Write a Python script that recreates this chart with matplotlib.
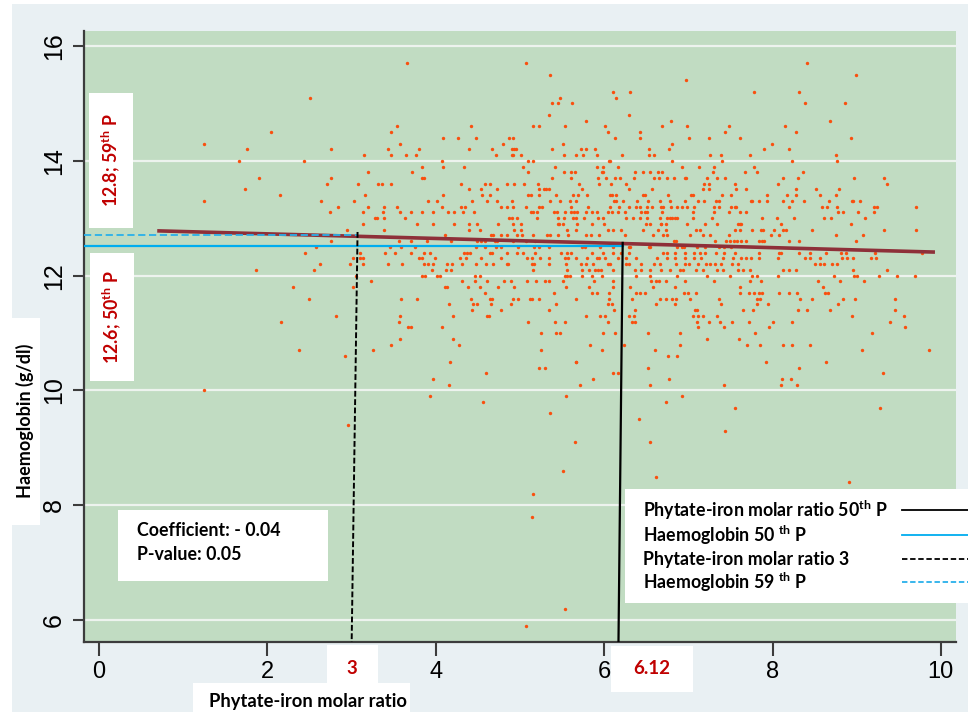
import matplotlib
matplotlib.use('Agg')
import matplotlib.pyplot as plt
from matplotlib.patches import Rectangle
from matplotlib.lines import Line2D

W, H = 968, 712

# haemoglobin values (g/dl) are recorded to 0.1, so the points sit in rows
hb_levels = [15.7, 15.5, 15.4, 15.2, 15.1, 15.0, 14.8, 14.7, 14.6, 14.5,
             14.4, 14.3, 14.2, 14.1, 14.0, 13.9, 13.8, 13.7, 13.6, 13.5,
             13.4, 13.3, 13.2, 13.1, 13.0, 12.9, 12.8, 12.7, 12.6, 12.5,
             12.4, 12.3, 12.2, 12.1, 12.0, 11.9, 11.8, 11.7, 11.6, 11.5,
             11.4, 11.3, 11.2, 11.1, 11.0, 10.9, 10.8, 10.7, 10.6, 10.5,
             10.4, 10.3, 10.2, 10.1, 10.0, 9.9, 9.8, 9.7, 9.6, 9.5,
             9.4, 9.3, 9.1, 8.6, 8.5, 8.4, 8.2, 7.8, 6.2, 5.9]

# phytate-iron molar ratio of each point in the matching row
ratio_by_level = [
    [3.66, 5.07, 8.41],
    [5.36, 8.99],
    [6.97],
    [6.10, 6.31, 7.78, 8.32],
    [2.50, 5.48, 6.14],
    [5.38, 5.45, 5.62, 8.39, 8.86],
    [5.35, 6.29],
    [5.78, 6.79, 8.68],
    [3.54, 4.42, 5.15, 5.22, 5.54, 6.01, 6.69, 6.98, 7.48, 8.15],
    [2.04, 3.47, 6.04, 6.43, 7.43, 8.28],
    [4.08, 4.26, 4.48, 4.87, 4.92, 6.13, 6.42, 7.01, 7.24, 7.61, 8.93],
    [1.25, 3.58, 4.80, 5.51, 6.80, 7.99],
    [1.76, 2.76, 3.43, 3.80, 4.40, 4.67, 4.90, 4.93, 4.95, 5.38, 5.72, 5.78,
     5.89, 6.53, 6.77, 7.90, 8.20],
    [3.15, 3.47, 3.64, 3.76, 4.72, 4.90, 4.92, 5.01, 5.52, 5.67, 5.75, 5.91,
     6.21, 6.53, 6.59, 7.26, 7.39, 7.73, 8.75],
    [1.66, 2.43, 4.07, 5.10, 5.16, 6.06, 6.07, 6.81, 7.40, 8.23, 8.77],
    [3.84, 4.08, 4.33, 5.03, 5.41, 5.92, 5.99, 6.17, 6.92, 7.13, 7.31, 7.78],
    [3.19, 3.72, 5.09, 5.52, 5.60, 5.65, 5.97, 5.99, 6.37, 6.46, 6.54, 6.64,
     6.69, 7.29, 7.67, 7.81, 8.36],
    [1.90, 2.76, 3.84, 3.86, 5.38, 5.61, 5.93, 6.02, 6.13, 6.19, 6.36, 6.59,
     6.65, 6.75, 6.83, 6.96, 6.97, 7.22, 7.34, 7.44, 8.13, 8.30, 8.97, 9.32],
    [2.71, 3.07, 3.31, 3.36, 3.47, 4.30, 4.59, 4.64, 4.84, 4.93, 5.05, 5.21,
     5.70, 5.94, 6.08, 6.26, 7.19, 7.25, 7.56, 8.06, 9.36],
    [1.73, 4.40, 4.54, 4.73, 5.22, 5.29, 5.31, 5.35, 5.74, 6.29, 6.57, 7.17,
     7.25, 7.57, 7.69, 8.28, 8.52, 8.79],
    [2.15, 3.16, 4.08, 4.55, 4.64, 5.10, 5.13, 5.22, 5.43, 5.63, 5.69, 5.80,
     6.07, 6.09, 6.14, 6.46, 6.49, 6.76, 7.03, 7.05, 7.40, 7.51, 7.93, 8.17,
     8.28, 8.57, 8.75],
    [1.24, 2.63, 3.03, 3.91, 4.01, 4.43, 4.61, 4.73, 4.90, 5.36, 5.48, 5.59,
     5.66, 6.12, 6.14, 6.22, 6.39, 6.52, 6.66, 6.78, 6.96, 7.11, 7.19, 7.33,
     7.36, 7.74, 7.76, 7.84, 7.93, 8.13, 8.23, 8.38, 8.67, 8.94, 8.96, 9.04],
    [2.84, 3.20, 3.38, 3.54, 4.07, 4.30, 4.35, 4.78, 4.84, 4.92, 5.07, 5.23,
     5.26, 5.60, 5.81, 6.07, 6.18, 6.29, 6.38, 6.43, 6.51, 6.57, 6.67, 6.70,
     6.79, 6.86, 6.93, 6.98, 7.07, 7.31, 7.36, 7.51, 7.55, 7.57, 8.20, 8.59,
     8.65, 8.77, 9.21, 9.24, 9.70],
    [2.74, 3.13, 3.37, 3.57, 3.70, 3.84, 3.97, 4.14, 4.22, 4.32, 4.45, 5.13,
     5.16, 5.20, 5.40, 5.44, 5.54, 5.61, 5.64, 5.68, 5.78, 5.85, 5.91, 6.05,
     6.09, 6.16, 6.25, 6.44, 6.49, 6.51, 6.69, 7.05, 7.31, 7.48, 7.61, 7.68,
     8.78, 8.84, 9.01, 9.21],
    [3.28, 3.30, 3.38, 3.63, 4.87, 4.91, 4.96, 5.20, 5.45, 5.52, 5.63, 5.66,
     5.76, 5.93, 5.99, 6.26, 6.34, 6.43, 6.51, 6.66, 6.75, 6.78, 6.81, 6.84,
     6.86, 7.05, 7.28, 7.88, 8.05, 8.26, 8.61, 8.69, 9.10],
    [3.13, 3.78, 3.97, 4.22, 4.40, 4.49, 4.74, 4.92, 5.01, 5.45, 5.46, 5.51,
     5.68, 5.86, 6.00, 6.50, 6.54, 6.67, 6.68, 6.73, 6.98, 7.20, 7.34, 7.59,
     7.61, 7.63, 8.10, 8.93],
    [2.95, 3.38, 4.39, 4.53, 4.93, 5.01, 5.56, 5.67, 6.04, 6.10, 6.20, 6.46,
     6.64, 6.73, 7.09, 7.14, 7.55, 7.61, 7.76, 7.86, 7.89, 8.02, 8.13, 8.16,
     8.47, 9.32, 9.71],
    [4.11, 4.66, 4.68, 4.78, 4.84, 4.97, 5.02, 5.15, 5.32, 5.36, 5.45, 5.57,
     5.79, 5.84, 5.94, 6.25, 6.58, 6.70, 6.75, 7.02, 7.17, 7.26, 7.48, 7.98,
     8.08, 8.75, 9.08],
    [2.76, 3.56, 3.71, 3.90, 4.18, 4.49, 4.54, 4.58, 4.70, 4.73, 4.92, 5.07,
     5.18, 6.83, 6.85, 7.32, 7.45, 7.49, 7.54, 7.58, 7.62, 7.69, 7.84, 7.88,
     7.90, 8.20, 8.31, 8.99],
    [2.58, 3.45, 3.59, 3.75, 4.48, 4.59, 4.71, 4.77, 4.98, 5.17, 5.22, 5.34,
     5.74, 5.77, 5.95, 6.11, 6.29, 6.31, 6.53, 6.55, 6.86, 6.92, 6.95, 7.10,
     7.20, 7.36, 7.42, 7.51],
    [2.44, 3.10, 3.40, 3.52, 3.70, 3.86, 3.93, 4.33, 4.37, 4.41, 4.64, 4.67,
     4.84, 4.96, 5.03, 5.18, 5.49, 5.56, 5.60, 5.86, 5.99, 6.10, 6.20, 6.30,
     6.70, 6.75, 6.84, 6.96, 7.07, 7.14, 7.20, 7.33, 7.42, 7.55, 7.84, 8.08,
     8.10, 8.31, 8.44, 8.64, 8.81, 8.87, 9.22, 9.78],
    [3.01, 3.10, 3.13, 3.80, 3.84, 3.99, 4.29, 4.36, 4.54, 4.77, 5.08, 5.14,
     5.24, 5.34, 5.54, 5.57, 5.67, 5.80, 5.91, 5.94, 6.01, 6.17, 6.26, 6.38,
     6.63, 6.75, 6.84, 6.96, 7.07, 7.15, 7.41, 7.53, 7.63, 7.68, 7.75, 7.84,
     8.06, 8.39, 8.45, 8.56, 8.83, 8.89, 8.96, 9.17, 9.23],
    [2.62, 2.98, 3.14, 3.43, 3.60, 3.86, 3.91, 3.97, 4.13, 4.19, 4.31, 4.48,
     4.60, 4.68, 4.84, 4.86, 5.14, 5.17, 5.34, 5.55, 5.72, 5.78, 5.87, 6.04,
     6.07, 6.26, 6.29, 6.44, 6.59, 6.66, 6.85, 6.96, 7.01, 7.11, 7.21, 7.26,
     7.32, 7.39, 7.52, 7.59, 8.50, 8.56, 8.61, 8.71, 8.77],
    [1.86, 2.55, 3.96, 4.12, 4.18, 5.16, 5.56, 5.74, 5.82, 5.89, 5.93, 5.96,
     6.10, 6.37, 6.44, 6.55, 6.67, 6.78, 6.90, 6.94, 7.09, 7.17, 7.34, 7.41,
     7.59, 7.65, 7.73, 8.13, 8.20, 8.28, 8.96, 9.36],
    [3.05, 3.84, 3.87, 4.01, 4.05, 4.46, 4.52, 5.53, 5.56, 5.59, 5.74, 5.85,
     5.98, 6.38, 6.55, 6.86, 7.22, 7.49, 7.76, 7.81, 8.07, 8.73, 8.97, 9.00,
     9.26, 9.48, 9.69],
    [3.23, 4.31, 4.46, 4.61, 4.81, 4.89, 5.08, 5.19, 5.30, 5.34, 5.51, 5.88,
     6.10, 6.56, 6.62, 6.65, 6.73, 6.96, 7.30, 7.73, 7.86, 8.54, 8.80, 9.09],
    [2.30, 3.01, 4.11, 4.13, 4.38, 4.52, 4.74, 4.93, 5.55, 5.82, 6.10, 6.31,
     6.58, 6.84, 7.61, 8.60],
    [4.59, 5.40, 5.86, 5.92, 6.06, 6.38, 6.42, 6.48, 6.95, 7.00, 7.09, 7.61,
     7.72, 7.78, 7.84, 7.88, 8.08, 8.20, 8.29, 8.62, 8.66],
    [2.49, 3.59, 3.78, 4.42, 4.64, 4.67, 4.92, 4.98, 5.12, 5.14, 5.23, 5.67,
     6.06, 6.33, 6.66, 6.73, 6.80, 6.85, 7.02, 7.36, 7.81, 7.85, 8.33, 8.47,
     8.84, 8.98, 9.46],
    [4.16, 4.44, 4.49, 4.65, 4.89, 5.43, 6.05, 6.09, 6.61, 6.84, 7.39, 7.81,
     7.95, 8.78],
    [4.43, 4.77, 5.34, 6.12, 6.37, 7.08, 7.10, 7.65, 7.77, 8.30, 8.41, 8.68,
     9.46],
    [2.81, 3.57, 4.20, 4.61, 4.63, 5.78, 5.95, 6.01, 6.30, 6.36, 7.05, 7.12,
     7.17, 7.34, 8.94, 9.56],
    [2.16, 3.56, 5.10, 5.41, 5.54, 6.04, 6.33, 6.37, 7.10, 7.25, 7.38, 7.52,
     7.72, 8.01, 8.23, 9.39],
    [3.67, 3.70, 4.07, 7.12, 7.42, 7.96, 9.57],
    [5.25, 5.43, 5.48, 5.99, 6.13, 6.52, 6.90, 7.79, 9.18],
    [3.57, 4.20, 7.22, 7.60],
    [3.47, 4.28, 5.83, 6.24, 6.90, 7.70, 7.85, 8.13, 8.23, 8.45],
    [2.38, 3.25, 5.25, 5.97, 6.60, 9.06, 9.86],
    [2.92, 6.76, 6.87],
    [4.17, 5.66, 5.67, 7.92, 8.64],
    [5.22, 5.30, 6.52, 8.32],
    [4.60, 6.10, 6.17, 9.31],
    [3.97, 5.87, 6.77, 8.11, 8.22],
    [4.16, 5.71, 6.55, 7.42, 8.10, 8.29],
    [1.24],
    [3.93, 5.55, 6.92],
    [4.56, 6.73],
    [7.55, 9.28],
    [5.36],
    [6.41],
    [2.96],
    [7.44],
    [5.65, 6.55],
    [5.51],
    [6.61],
    [8.91],
    [5.15],
    [5.14],
    [5.54],
    [5.07],
]

x_ticks = [0, 2, 4, 6, 8, 10]
y_ticks = [6, 8, 10, 12, 14, 16]
x_range = (-0.18, 10.18)
y_range = (5.62, 16.26)

# fitted regression line (coefficient -0.04)
fit_x = [0.69, 9.93]
fit_y = [12.78, 12.41]

# percentile guide lines as drawn on the chart
hb_p50, hb_p59 = 12.52, 12.71
ratio_p50_x = [6.22, 6.17]
ratio_p50_top = 12.57
ratio_3_x = [3.07, 3.00]
ratio_3_top = 12.76

RED = '#c00000'
CYAN = '#00adef'
CYAN_LIGHT = '#29b0ea'

plt.rcParams['font.family'] = ['Liberation Sans', 'DejaVu Sans']
plt.rcParams['mathtext.fontset'] = 'custom'
plt.rcParams['mathtext.rm'] = 'Lato:bold'
plt.rcParams['mathtext.it'] = 'Lato:bold'
plt.rcParams['mathtext.bf'] = 'Lato:bold'

fig = plt.figure(figsize=(W / 100, H / 100), dpi=100)
fig.patch.set_facecolor('white')
fig.add_artist(Rectangle((12 / W, 0), 1 - 12 / W, 1 - 4 / H, transform=fig.transFigure,
                         facecolor='#e9f0f3', edgecolor='none', zorder=-5))

ax = fig.add_axes([84 / W, 1 - 642 / H, (956 - 84) / W, (642 - 31) / H])
ax.set_facecolor('#c1dcc2')
ax.set_xlim(*x_range)
ax.set_ylim(*y_range)
for side in ['top', 'right']:
    ax.spines[side].set_visible(False)
for side in ['left', 'bottom']:
    ax.spines[side].set_color('#3c3c3c')
    ax.spines[side].set_linewidth(1.6)

ax.set_axisbelow(True)
ax.yaxis.grid(True, color='#edf3ee', lw=1.6)
ax.set_xticks(x_ticks)
ax.set_yticks(y_ticks)
ax.set_yticklabels([str(v) for v in y_ticks], rotation=90, va='center')
ax.tick_params(axis='x', length=10, width=1.5, color='#3c3c3c', labelsize=17, pad=4)
ax.tick_params(axis='y', length=8, width=1.5, color='#3c3c3c', labelsize=18, pad=5)

xs, ys = [], []
for hb, ratios in zip(hb_levels, ratio_by_level):
    xs += ratios
    ys += [hb] * len(ratios)
ax.scatter(xs, ys, s=6, c='#f9500f', linewidths=0, zorder=2)

ax.plot(fit_x, fit_y, color='#8e3039', lw=2.6, solid_capstyle='butt', zorder=3)
ax.plot([x_range[0], ratio_p50_x[0]], [hb_p50, hb_p50], color=CYAN, lw=1.6, zorder=4)
ax.plot([x_range[0], ratio_3_x[0]], [hb_p59, hb_p59], color=CYAN_LIGHT, lw=1.3,
        dashes=(4, 2), zorder=4)
ax.plot(ratio_p50_x, [ratio_p50_top, y_range[0]], color='black', lw=1.6, zorder=4)
ax.plot(ratio_3_x, [ratio_3_top, y_range[0]], color='black', lw=1.4,
        dashes=(3, 1.3), zorder=4)


def box(l, t, r, b):
    fig.add_artist(Rectangle((l / W, 1 - b / H), (r - l) / W, (b - t) / H,
                             transform=fig.transFigure, facecolor='white',
                             edgecolor='none', zorder=5))


def label(x, y, s, **kw):
    kw.setdefault('family', 'Lato')
    kw.setdefault('weight', 'bold')
    fig.text(x / W, 1 - y / H, s, zorder=6, **kw)


# annotation boxes
box(89, 93, 133, 228)
label(111, 160, r'12.8; 59$^{\mathrm{th}}$ P', color=RED, fontsize=12.8,
      rotation=90, ha='center', va='center')
box(90, 253, 134, 381)
label(112, 317, r'12.6; 50$^{\mathrm{th}}$ P', color=RED, fontsize=12.8,
      rotation=90, ha='center', va='center')

box(118, 510, 328, 581)
label(137, 531, 'Coefficient: - 0.04', fontsize=12.8, va='center')
label(137, 555, 'P-value: 0.05', fontsize=12.8, va='center')

box(327, 645, 378, 690)
label(352, 668, '3', color=RED, fontsize=13.5, ha='center', va='center')
box(611, 646, 693, 692)
label(652, 669, '6.12', color=RED, fontsize=13.5, ha='center', va='center')

box(12, 318, 40, 525)
label(25, 421, 'Haemoglobin (g/dl)', fontsize=13, rotation=90,
      ha='center', va='center')
box(193, 683, 410, 712)
label(308, 701, 'Phytate-iron molar ratio', fontsize=13.2, ha='center', va='center')

# hand-made legend box
box(625, 489, 968, 603)
legend_rows = [
    (510, r'Phytate-iron molar ratio 50$^{\mathrm{th}}$ P', 'black', '-'),
    (535, r'Haemoglobin 50 $^{\mathrm{th}}$ P', CYAN, '-'),
    (559, 'Phytate-iron molar ratio 3', 'black', '--'),
    (582, r'Haemoglobin 59 $^{\mathrm{th}}$ P', CYAN_LIGHT, '--'),
]
for y, text, col, ls in legend_rows:
    label(643, y, text, fontsize=12.8, va='center')
    ln = Line2D([902 / W, 1.0], [1 - y / H, 1 - y / H], transform=fig.transFigure,
                color=col, lw=1.3, zorder=6)
    if ls == '--':
        ln.set_dashes((3, 1.5))
    fig.add_artist(ln)

fig.savefig('out.png', dpi=100)
